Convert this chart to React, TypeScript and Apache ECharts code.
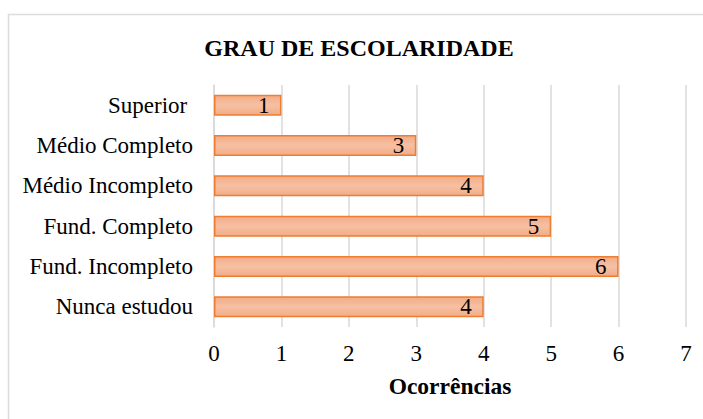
import React, { useEffect, useRef } from "react";
import * as echarts from "echarts";

const categories = ["Superior ", "Médio Completo", "Médio Incompleto", "Fund. Completo", "Fund. Incompleto", "Nunca estudou"];
const values = [1, 3, 4, 5, 6, 4];
const xTicks = [0, 1, 2, 3, 4, 5, 6, 7];
const titleText = "GRAU DE ESCOLARIDADE";
const xAxisTitle = "Ocorrências";

const FONT = "'Liberation Serif', 'Times New Roman', serif";

export default function App() {
  const ref = useRef<HTMLDivElement>(null);
  useEffect(() => {
    if (!ref.current) return;
    const chart = echarts.init(ref.current, null, { renderer: "svg" });
    chart.setOption({
      animation: false,
      backgroundColor: "#ffffff",
      title: {
        text: titleText,
        left: 354,
        top: 31,
        textAlign: "center",
        textStyle: { fontFamily: FONT, fontSize: 24, fontWeight: "bold", color: "#000" },
      },
      graphic: [
        {
          type: "rect",
          shape: { x: 8.5, y: 14.5, width: 800, height: 600 },
          style: { fill: "none", stroke: "#dcdcdc", lineWidth: 1.5 },
          silent: true,
          z: -1,
        },
      ],
      grid: { left: 214, right: 17, top: 85, bottom: 92, containLabel: false },
      xAxis: {
        type: "value",
        min: xTicks[0],
        max: xTicks[xTicks.length - 1],
        interval: 1,
        name: xAxisTitle,
        nameLocation: "middle",
        nameGap: 47,
        nameTextStyle: { fontFamily: FONT, fontSize: 23.5, fontWeight: "bold", color: "#000" },
        axisLine: { show: false },
        axisTick: { show: false },
        axisLabel: { fontFamily: FONT, fontSize: 23, color: "#000", margin: 15 },
        splitLine: { show: true, lineStyle: { color: "#d9d9d9", width: 1.5 } },
      },
      yAxis: {
        type: "category",
        data: categories,
        inverse: true,
        axisLine: { show: true, lineStyle: { color: "#d9d9d9", width: 1.5 } },
        axisTick: { show: false },
        axisLabel: { fontFamily: FONT, fontSize: 23, color: "#000", margin: 21 },
      },
      series: [
        {
          type: "bar",
          data: values,
          barWidth: 21,
          itemStyle: {
            color: new echarts.graphic.LinearGradient(0, 0, 0, 1, [
              { offset: 0, color: "#f3ac86" },
              { offset: 0.5, color: "#f6c0a3" },
              { offset: 1, color: "#f3ac86" },
            ]),
            borderColor: "#ed7d31",
            borderWidth: 1.5,
          },
          label: {
            show: true,
            position: "insideRight",
            distance: 12,
            fontFamily: FONT,
            fontSize: 23,
            color: "#000",
          },
        },
      ],
    });
    return () => chart.dispose();
  }, []);
  return <div ref={ref} style={{ position: "fixed", left: 0, top: 0, width: 703, height: 419 }} />;
}
